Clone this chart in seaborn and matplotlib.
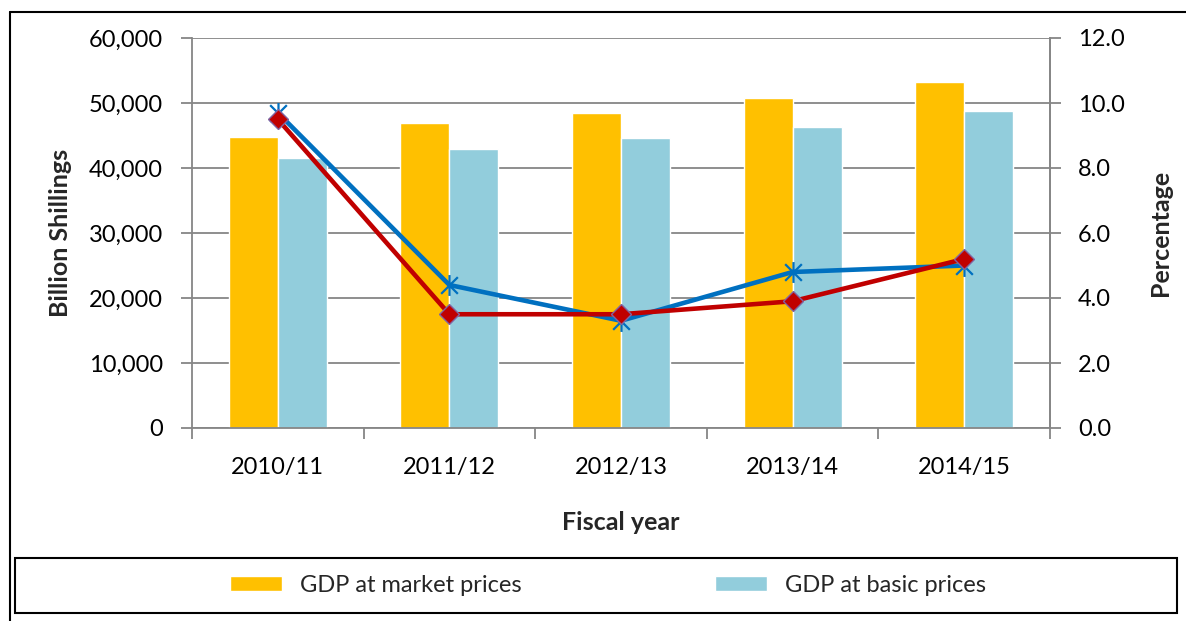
import numpy as np
import pandas as pd
import matplotlib
matplotlib.use("Agg")
import matplotlib.pyplot as plt
from matplotlib.path import Path
from matplotlib.patches import Rectangle
from matplotlib.lines import Line2D
from matplotlib.ticker import FuncFormatter, FixedLocator
import seaborn as sns

# ---- data ----
years = ["2010/11", "2011/12", "2012/13", "2013/14", "2014/15"]
gdp_market = [44800, 46900, 48400, 50700, 53300]      # Billion Shillings
gdp_basic = [41600, 43000, 44600, 46300, 48700]       # Billion Shillings
growth_market = [9.5, 3.5, 3.5, 3.9, 5.2]             # Percentage
growth_basic = [9.7, 4.4, 3.3, 4.8, 5.0]              # Percentage
series_names = ["GDP at market prices", "GDP at basic prices"]

bars = pd.DataFrame({
    "year": years * 2,
    "value": gdp_market + gdp_basic,
    "series": [series_names[0]] * len(years) + [series_names[1]] * len(years),
})
growth_mkt_df = pd.DataFrame({"year": years, "growth": growth_market})
growth_bas_df = pd.DataFrame({"year": years, "growth": growth_basic})

# ---- style ----
sns.set_style("white")
plt.rcParams["font.family"] = ["Lato", "DejaVu Sans"]
FS = 17
FS_TITLE = 18
GRID = "#868686"
YELLOW = "#FFC000"
AQUA = "#92CDDC"
RED = "#C00000"
BLUE = "#0070C0"

fig = plt.figure(figsize=(11.86, 6.21), dpi=100)
ax = fig.add_axes([192 / 1186, 1 - 428 / 621, (1050 - 192) / 1186, (428 - 38) / 621])

sns.barplot(data=bars, x="year", y="value", hue="series", order=years,
            hue_order=series_names, palette=[YELLOW, AQUA], saturation=1,
            width=0.57, ax=ax, zorder=2)
handles, labels = ax.get_legend_handles_labels()
if ax.get_legend() is not None:
    ax.get_legend().remove()

ax.set_ylim(0, 60000)
ax.set_yticks(np.arange(0, 60001, 10000))
ax.yaxis.set_major_formatter(FuncFormatter(lambda v, p: f"{v:,.0f}"))
ax.grid(axis="y", color=GRID, linewidth=1.3, zorder=0)
ax.set_axisbelow(True)
ax.set_xlabel("")
ax.set_ylabel("")

ax.spines["top"].set_visible(False)
for side in ["left", "right", "bottom"]:
    ax.spines[side].set_color(GRID)
    ax.spines[side].set_linewidth(1.3)

ax.tick_params(axis="y", left=True, length=8, width=1.3, color=GRID,
               labelsize=FS, pad=13, labelcolor="black")
ax.tick_params(axis="x", which="major", length=0, labelsize=FS, pad=21,
               labelcolor="black")
ax.xaxis.set_minor_locator(FixedLocator(np.arange(-0.5, len(years), 1.0)))
ax.tick_params(axis="x", which="minor", bottom=True, length=8, width=1.3,
               color=GRID)

# ---- growth lines on secondary axis ----
ax2 = ax.twinx()
star = Path(
    [(-1, -1), (1, 1), (-1, 1), (1, -1), (0, -1.25), (0, 1.25)],
    [Path.MOVETO, Path.LINETO, Path.MOVETO, Path.LINETO, Path.MOVETO, Path.LINETO],
)
sns.pointplot(data=growth_bas_df, x="year", y="growth", order=years,
              color=BLUE, marker=star, markersize=15, markeredgewidth=1.6,
              markeredgecolor=BLUE, linewidth=3.3, errorbar=None, ax=ax2)
sns.pointplot(data=growth_mkt_df, x="year", y="growth", order=years,
              color=RED, marker="D", markersize=10, markeredgewidth=1.0,
              markeredgecolor="#8064A2", markerfacecolor=RED, linewidth=3.3,
              errorbar=None, ax=ax2)
ax2.set_ylim(0, 12)
ax2.set_yticks(np.arange(0, 12.1, 2))
ax2.yaxis.set_major_formatter(FuncFormatter(lambda v, p: f"{v:.1f}"))
ax2.set_ylabel("")
ax2.set_xlim(-0.5, len(years) - 0.5)
for side in ["top", "left", "bottom"]:
    ax2.spines[side].set_visible(False)
ax2.spines["right"].set_color(GRID)
ax2.spines["right"].set_linewidth(1.3)
ax2.tick_params(axis="y", right=True, length=8, width=1.3, color=GRID,
                labelsize=FS, pad=12, labelcolor="black")

# ---- axis titles ----
fig.text(60 / 1186, 1 - 233 / 621, "Billion Shillings", rotation=90,
         ha="center", va="center", fontsize=FS_TITLE, fontweight="bold")
fig.text(1160 / 1186, 1 - 233 / 621, "Percentage", rotation=90,
         ha="center", va="center", fontsize=FS_TITLE, fontweight="bold")
fig.text(621 / 1186, 1 - 522 / 621, "Fiscal year", ha="center", va="center",
         fontsize=FS_TITLE, fontweight="bold")

# ---- legend with box ----
fig.add_artist(Rectangle((15 / 1186, 1 - 613 / 621), (1177 - 15) / 1186,
                         (613 - 558) / 621, transform=fig.transFigure,
                         fill=False, edgecolor="black", linewidth=1.5))
fig.legend(handles, labels, loc="center", bbox_to_anchor=(608 / 1186, 1 - 585 / 621),
           ncol=2, frameon=False, fontsize=FS, handlelength=2.2,
           handleheight=0.6, handletextpad=0.75, columnspacing=8.2)

# ---- outer frame ----
fig.add_artist(Line2D([10 / 1186, 1.0], [1 - 12 / 621, 1 - 12 / 621],
                      transform=fig.transFigure, color="black", linewidth=1.5))
fig.add_artist(Line2D([10 / 1186, 10 / 1186], [1 - 12 / 621, 0.0],
                      transform=fig.transFigure, color="black", linewidth=1.5))

fig.savefig("out.png", dpi=100)
